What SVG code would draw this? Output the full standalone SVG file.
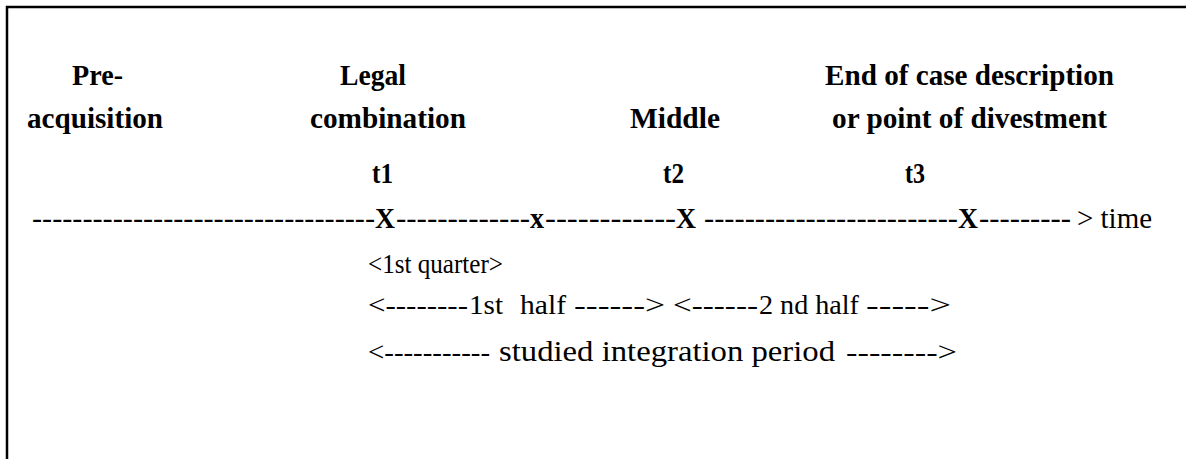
<svg xmlns="http://www.w3.org/2000/svg" width="1186" height="459" viewBox="0 0 1186 459">
<style>
.h{font-family:"Liberation Serif","Times New Roman",serif;font-weight:bold;font-size:29px;fill:#000}
.t{font-family:"Liberation Serif","Times New Roman",serif;font-size:29px;fill:#000}
.n{font-family:"Liberation Serif","Times New Roman",serif;font-size:27px;fill:#000}
.b{font-weight:bold;font-size:30px}
.w{font-size:29px}
</style>
<rect width="1186" height="459" fill="#fff"/>
<path d="M1186 7 H7 V459" fill="none" stroke="#000" stroke-width="2.5"/>
<g id="pre-acquisition">
<text class="h" x="72" y="85" textLength="51" lengthAdjust="spacingAndGlyphs">Pre-</text>
<text class="h" x="27" y="128" textLength="136" lengthAdjust="spacingAndGlyphs">acquisition</text>
</g>
<g id="legal-combination">
<text class="h" x="340" y="85" textLength="66" lengthAdjust="spacingAndGlyphs">Legal</text>
<text class="h" x="310" y="128" textLength="156" lengthAdjust="spacingAndGlyphs">combination</text>
<text class="h" x="372" y="183" textLength="21" lengthAdjust="spacingAndGlyphs">t1</text>
</g>
<g id="middle">
<text class="h" x="630" y="128" textLength="90" lengthAdjust="spacingAndGlyphs">Middle</text>
<text class="h" x="663" y="183" textLength="21" lengthAdjust="spacingAndGlyphs">t2</text>
</g>
<g id="end">
<text class="h" x="825" y="85" textLength="289" lengthAdjust="spacingAndGlyphs">End of case description</text>
<text class="h" x="832" y="128" textLength="275" lengthAdjust="spacingAndGlyphs">or point of divestment</text>
<text class="h" x="905" y="183" textLength="20" lengthAdjust="spacingAndGlyphs">t3</text>
</g>
<g id="connectors">
<text class="t" y="228"><tspan x="32" textLength="343" lengthAdjust="spacingAndGlyphs">----------------------------------</tspan><tspan class="b" x="375" textLength="20" lengthAdjust="spacingAndGlyphs">X</tspan><tspan x="396" textLength="134" lengthAdjust="spacingAndGlyphs">-------------</tspan><tspan class="b" x="530" textLength="14" lengthAdjust="spacingAndGlyphs">x</tspan><tspan x="545" textLength="131" lengthAdjust="spacingAndGlyphs">------------</tspan><tspan class="b" x="676" textLength="20" lengthAdjust="spacingAndGlyphs">X</tspan><tspan x="704" textLength="254" lengthAdjust="spacingAndGlyphs">-------------------------</tspan><tspan class="b" x="958" textLength="20" lengthAdjust="spacingAndGlyphs">X</tspan><tspan x="979" textLength="92" lengthAdjust="spacingAndGlyphs">---------</tspan><tspan x="1077" textLength="75" lengthAdjust="spacingAndGlyphs">&gt; time</tspan></text>
</g>
<g id="periods">
<text class="n" x="368" y="273" textLength="135" lengthAdjust="spacingAndGlyphs">&lt;1st quarter&gt;</text>
<text class="n" y="314"><tspan x="368" textLength="100" lengthAdjust="spacingAndGlyphs">&lt;--------</tspan><tspan x="469" textLength="34" lengthAdjust="spacingAndGlyphs">1st</tspan><tspan x="520" textLength="46" lengthAdjust="spacingAndGlyphs">half</tspan><tspan x="574" textLength="91" lengthAdjust="spacingAndGlyphs">------&gt;</tspan><tspan x="673" textLength="85" lengthAdjust="spacingAndGlyphs">&lt;------</tspan><tspan x="759" textLength="100" lengthAdjust="spacingAndGlyphs">2 nd half</tspan><tspan x="866" textLength="85" lengthAdjust="spacingAndGlyphs">-----&gt;</tspan></text>
<text class="n" y="361"><tspan x="368" textLength="122" lengthAdjust="spacingAndGlyphs">&lt;-----------</tspan><tspan class="w" x="499" textLength="336" lengthAdjust="spacingAndGlyphs">studied integration period</tspan><tspan x="846" textLength="111" lengthAdjust="spacingAndGlyphs">--------&gt;</tspan></text>
</g>
</svg>
